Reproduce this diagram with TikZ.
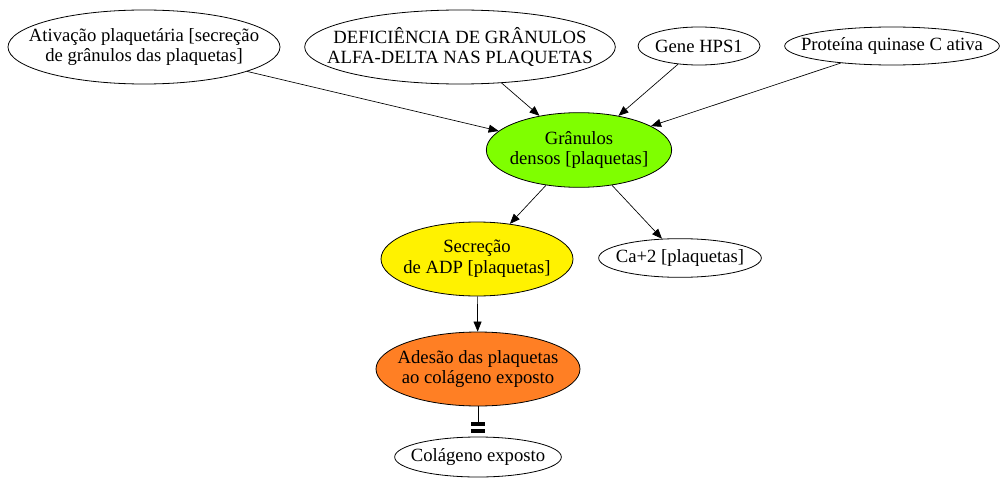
\documentclass[tikz,border=0pt]{standalone}
\usepackage{fontspec}
\setmainfont{Liberation Serif}
\usepackage{xcolor}
\usetikzlibrary{shapes.geometric, arrows.meta}
\definecolor{verde}{HTML}{7FFF00}
\definecolor{laranja}{HTML}{FF7F24}
\tikzset{
    blob/.style={ellipse, draw, line width=0.6pt, inner sep=0pt},
    txt/.style={align=center, inner sep=0pt, font=\fontsize{14pt}{15.5pt}\selectfont},
    link/.style={line width=0.5pt, -{Triangle[length=7.5pt,width=6pt]}},
}

\begin{document}
\begin{tikzpicture}[x=0.75pt, y=-0.75pt]
    \useasboundingbox (0,0) rectangle (1005,485);
    % causes
    \node[blob, minimum width=204pt, minimum height=55.5pt, label={[txt]center:Ativação plaquetária [secreção\\de grânulos das plaquetas]}] (ativ) at (144,47) {};
    \node[blob, minimum width=233pt, minimum height=55.5pt, label={[txt]center:DEFICIÊNCIA DE GRÂNULOS\\ALFA-DELTA NAS PLAQUETAS}] (defic) at (460,47) {};
    \node[blob, minimum width=91.5pt, minimum height=28.5pt, label={[txt]center:Gene HPS1}] (hps) at (699,46) {};
    \node[blob, minimum width=161pt, minimum height=28.5pt, label={[txt]center:Proteína quinase C ativa}] (pkc) at (892,46) {};
    % middle
    \node[blob, fill=verde, minimum width=139pt, minimum height=56pt, label={[txt]center:Grânulos\\densos [plaquetas]}] (gran) at (579,150) {};
    \node[blob, fill=yellow, minimum width=144pt, minimum height=55.5pt, label={[txt]center:Secreção\\de ADP [plaquetas]}] (adp) at (477,259) {};
    \node[blob, minimum width=122pt, minimum height=29pt, label={[txt]center:Ca+2 [plaquetas]}] (ca) at (680,258) {};
    \node[blob, fill=laranja, minimum width=153pt, minimum height=55.5pt, label={[txt]center:Adesão das plaquetas\\ao colágeno exposto}] (ades) at (478,369) {};
    \node[blob, minimum width=125pt, minimum height=30pt, label={[txt]center:Colágeno exposto}] (colag) at (478,457) {};

    \draw[link] (ativ) -- (gran);
    \draw[link] (defic) -- (gran);
    \draw[link] (hps) -- (gran);
    \draw[link] (pkc) -- (gran);
    \draw[link] (gran) -- (adp);
    \draw[link] (gran) -- (ca);
    \draw[link] (adp) -- (ades);
    \draw[line width=0.5pt, shorten >=3pt, -{Rectangle[length=2.5pt,width=10.5pt,sep=2.25pt] . Rectangle[length=3pt,width=10.5pt]}] (ades) -- (colag);
\end{tikzpicture}
\end{document}
